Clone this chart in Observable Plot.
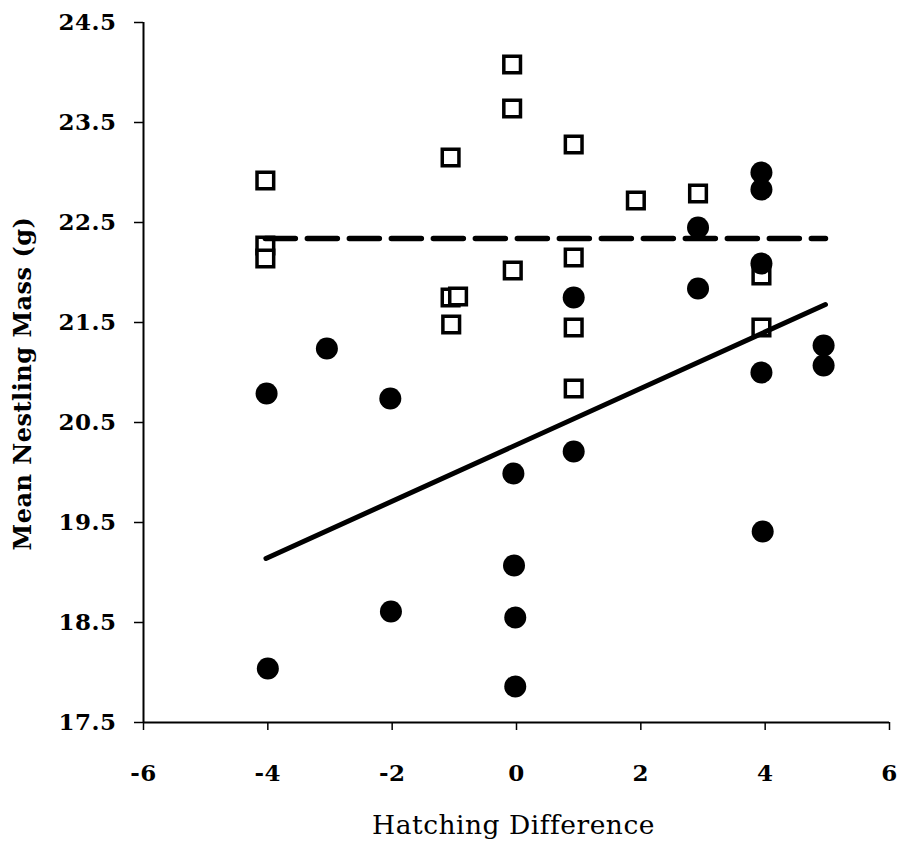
<!DOCTYPE html>
<html>
<head>
<meta charset="utf-8">
<script src="https://cdn.jsdelivr.net/npm/d3@7"></script>
<script src="https://cdn.jsdelivr.net/npm/@observablehq/plot@0.6"></script>
<style>
  body { margin: 0; background: #fff; }
</style>
</head>
<body>
<div id="chart"></div>
<script>
// Open squares (series A)
const squareX = [-4.04, -4.04, -4.04, -1.06, -1.06, -0.94, -1.05, -0.07, -0.07, -0.06, 0.92, 0.92, 0.92, 0.92, 1.92, 2.92, 3.94, 3.94];
const squareY = [22.92, 22.27, 22.14, 23.15, 21.75, 21.76, 21.48, 24.08, 23.64, 22.02, 23.28, 22.15, 21.45, 20.84, 22.72, 22.79, 21.97, 21.45];
// Filled circles (series B)
const circleX = [-4.02, -4.0, -3.05, -2.03, -2.02, -0.05, -0.04, -0.02, -0.02, 0.92, 0.92, 2.92, 2.92, 3.94, 3.94, 3.94, 3.94, 3.96, 4.94, 4.94];
const circleY = [20.79, 18.04, 21.24, 20.74, 18.61, 19.99, 19.07, 18.55, 17.86, 21.75, 20.21, 22.45, 21.84, 23.0, 22.83, 22.09, 21.0, 19.41, 21.27, 21.07];
// Fitted lines (endpoints)
const solidLineX = [-4.03, 4.97];
const solidLineY = [19.14, 21.68];
const dashedLineX = [-4.04, 4.97];
const dashedLineY = [22.34, 22.34];
// Ticks and labels
const xTicks = [-6, -4, -2, 0, 2, 4, 6];
const yTicks = [17.5, 18.5, 19.5, 20.5, 21.5, 22.5, 23.5, 24.5];
const xTitle = "Hatching Difference";
const yTitle = "Mean Nestling Mass (g)";

const squares = squareX.map((x, i) => ({x, y: squareY[i]}));
const circles = circleX.map((x, i) => ({x, y: circleY[i]}));
const solid = solidLineX.map((x, i) => ({x, y: solidLineY[i]}));
const dashed = dashedLineX.map((x, i) => ({x, y: dashedLineY[i]}));

const font = "'DejaVu Serif', 'Liberation Serif', serif";

const chart = Plot.plot({
  width: 904,
  height: 846,
  marginLeft: 143,
  marginRight: 15,
  marginTop: 22,
  marginBottom: 124,
  style: {fontFamily: font, fontSize: "23px", fontWeight: "bold", color: "#000", background: "#fff", letterSpacing: "0.5px"},
  x: {domain: [-6, 6]},
  y: {domain: [17.5, 24.5]},
  marks: [
    Plot.axisX({ticks: xTicks, tickSize: 8, tickPadding: 34, tickFormat: d => String(d), label: null, strokeWidth: 1.5}),
    Plot.axisY({ticks: yTicks, tickSize: 9, tickPadding: 18, tickFormat: d3.format(".1f"), label: null, strokeWidth: 1.5}),
    Plot.ruleX([-6], {stroke: "#000", strokeWidth: 2}),
    Plot.ruleY([17.5], {stroke: "#000", strokeWidth: 2}),
    Plot.dot(squares, {x: "x", y: "y", symbol: "square", r: 9.4, stroke: "#000", strokeWidth: 3.5, fill: "#fff"}),
    Plot.dot(circles, {x: "x", y: "y", r: 11, fill: "#000", stroke: "none"}),
    Plot.line(dashed, {x: "x", y: "y", stroke: "#000", strokeWidth: 5.5, strokeDasharray: "30 12"}),
    Plot.line(solid, {x: "x", y: "y", stroke: "#000", strokeWidth: 5}),
    Plot.text([xTitle], {text: d => d, frameAnchor: "bottom", textAnchor: "middle", lineAnchor: "middle", dx: -3, dy: 103, fontSize: 26.5, fontWeight: "normal"}),
    Plot.text([yTitle], {text: d => d, frameAnchor: "left", textAnchor: "middle", lineAnchor: "middle", dx: -120, dy: 11, rotate: -90, fontSize: 24, fontWeight: "bold"})
  ]
});
document.getElementById("chart").appendChild(chart);
</script>
</body>
</html>
